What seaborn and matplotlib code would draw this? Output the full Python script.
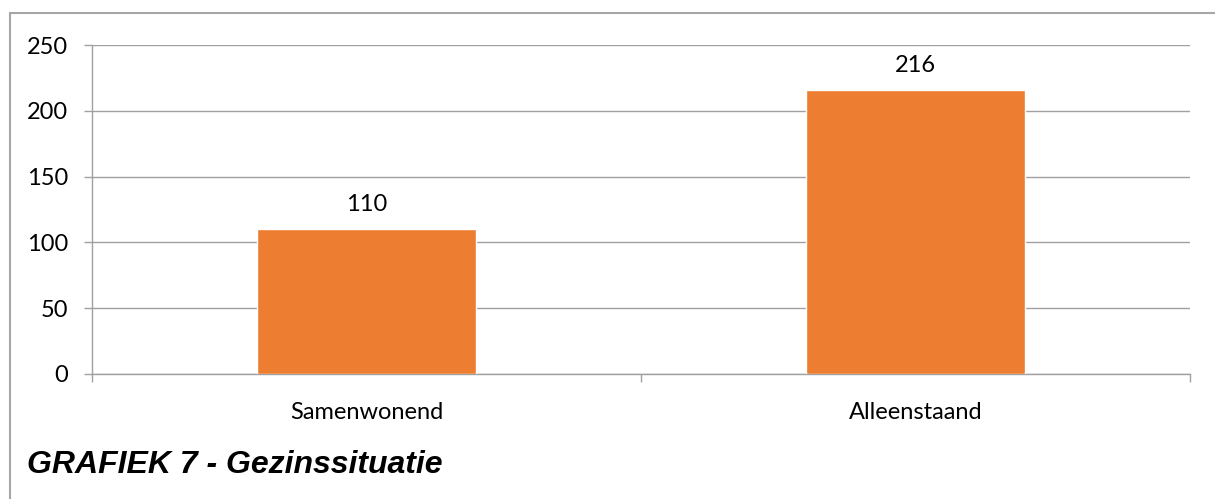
import pandas as pd
import matplotlib.pyplot as plt
import seaborn as sns
from matplotlib.lines import Line2D

# data
categories = ["Samenwonend", "Alleenstaand"]
values = [110, 216]
yticks = [0, 50, 100, 150, 200, 250]

df = pd.DataFrame({"situatie": categories, "aantal": values})

sns.set_style("white")
plt.rcParams["font.family"] = ["Lato", "DejaVu Sans"]
plt.rcParams["text.color"] = "black"
plt.rcParams["xtick.color"] = "black"
plt.rcParams["ytick.color"] = "black"

fig = plt.figure(figsize=(12.15, 4.99), dpi=100)
ax = fig.add_axes([92 / 1215, 125 / 499, 1098 / 1215, 329 / 499])

sns.barplot(data=df, x="situatie", y="aantal", color="#ED7D31", width=0.4,
            saturation=1, ax=ax, zorder=3)

ax.set_ylim(0, 250)
ax.set_xlim(-0.5, 1.5)
ax.set_yticks(yticks)
ax.yaxis.grid(True, color="#A0A0A0", linewidth=1, zorder=0)
ax.set_axisbelow(True)

for s in ["top", "right"]:
    ax.spines[s].set_visible(False)
for s in ["left", "bottom"]:
    ax.spines[s].set_color("#A0A0A0")
    ax.spines[s].set_linewidth(1)

ax.set_xlabel("")
ax.set_ylabel("")
ax.tick_params(axis="y", length=6, color="#A0A0A0", width=1, labelsize=17,
               labelcolor="black", pad=11, left=True)
ax.tick_params(axis="x", length=0, labelsize=17, labelcolor="black", pad=20)
# category separator ticks on the x axis
ax.set_xticks([-0.5, 0.5, 1.5], minor=True)
ax.tick_params(axis="x", which="minor", length=6, color="#A0A0A0", width=1,
               bottom=True)

ax.bar_label(ax.containers[0], labels=[str(v) for v in values], padding=10,
             fontsize=17, color="black")

# outer frame of the chart area (top and left edges only are visible)
frame_kw = dict(transform=fig.transFigure, color="#A6A6A6", linewidth=1.5)
fig.lines.append(Line2D([10 / 1215, 1], [1 - 13 / 499] * 2, **frame_kw))
fig.lines.append(Line2D([10 / 1215] * 2, [0, 1 - 13 / 499], **frame_kw))

fig.text(27 / 1215, 1 - 473 / 499, "GRAFIEK 7 - Gezinssituatie",
         family="Liberation Sans", weight="bold", style="italic", fontsize=23,
         color="black", va="baseline")

fig.savefig("out.png", dpi=100)
